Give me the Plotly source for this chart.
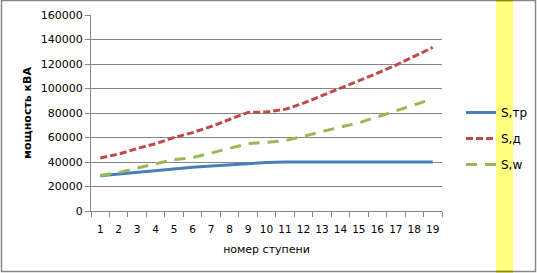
import plotly.graph_objects as go

stages = list(range(1, 20))
s_tr = [28800, 30300, 31800, 32800, 34200, 35800, 36800, 37800, 39000, 39600,
        40000, 40000, 40000, 40000, 40000, 40000, 40000, 40000, 40000]
s_d = [43300, 46500, 51000, 55000, 60000, 64000, 69000, 74500, 80500, 80800,
       83000, 88000, 94000, 100000, 106500, 112500, 119000, 126000, 133500]
s_w = [29000, 31500, 35000, 38500, 42000, 43500, 47500, 51500, 55000, 56000,
       57500, 61000, 65000, 68500, 72000, 77000, 82000, 86500, 91500]
y_ticks = [0, 20000, 40000, 60000, 80000, 100000, 120000, 140000, 160000]

FONT = "DejaVu Sans"

fig = go.Figure()
fig.add_trace(go.Scatter(x=stages, y=s_tr, mode="lines", name="S,тр",
                         legendgroup="a",
                         line=dict(color="#4A7EBB", width=3)))
fig.add_trace(go.Scatter(x=stages, y=s_d, mode="lines", name="S,д",
                         legendgroup="b",
                         line=dict(color="#BE4B48", width=3, dash="7px,3px")))
fig.add_trace(go.Scatter(x=stages, y=s_w, mode="lines", name="S,w",
                         legendgroup="c",
                         line=dict(color="#98B954", width=3, dash="11px,8px")))

L, R, T, B = 91, 442, 15, 211
W, H = 537, 273
pw, ph = R - L, B - T

def px_x(p):
    return (p - L) / pw

def px_y(p):
    return (B - p) / ph

shapes = [
    dict(type="rect", xref="paper", yref="paper", x0=px_x(496), x1=px_x(513),
         y0=px_y(273), y1=px_y(0), fillcolor="#FFFF80", line=dict(width=0),
         layer="below"),
    dict(type="rect", xref="paper", yref="paper", x0=px_x(1.5), x1=px_x(535.5),
         y0=px_y(271.5), y1=px_y(0.5), fillcolor="rgba(0,0,0,0)",
         line=dict(color="#868686", width=1.5), layer="above"),
    dict(type="line", xref="paper", yref="paper", x0=px_x(496), x1=px_x(513),
         y0=px_y(0.5), y1=px_y(0.5), line=dict(color="#8C8C00", width=1.5)),
    dict(type="line", xref="paper", yref="paper", x0=px_x(496), x1=px_x(513),
         y0=px_y(271.5), y1=px_y(271.5), line=dict(color="#8C8C00", width=1.5)),
]

fig.update_layout(
    width=W, height=H,
    margin=dict(l=L, r=W - R, t=T, b=H - B, pad=0, autoexpand=False),
    paper_bgcolor="white", plot_bgcolor="white",
    font=dict(family=FONT, size=11, color="#000000"),
    shapes=shapes,
    showlegend=True,
    legend=dict(x=px_x(461), y=px_y(98), xanchor="left", yanchor="top",
                font=dict(family=FONT, size=12, color="#000"),
                bgcolor="rgba(0,0,0,0)", tracegroupgap=7,
                itemwidth=30),
    xaxis=dict(
        type="category", tickmode="array", tickvals=stages,
        ticktext=[str(s) for s in stages],
        range=[-0.5, 18.5], showgrid=False,
        showline=True, linecolor="#868686", linewidth=1,
        ticks="outside", ticklen=5, tickcolor="#868686",
        tickson="boundaries", tickangle=0,
        ticklabelstandoff=8,
        tickfont=dict(family=FONT, size=10.5),
        automargin=False,
        title=dict(text="номер ступени", font=dict(family=FONT, size=11),
                   standoff=11),
    ),
    yaxis=dict(
        range=[0, 160000], tickmode="array", tickvals=y_ticks,
        ticktext=[str(v) for v in y_ticks],
        showgrid=True, gridcolor="#868686", gridwidth=1,
        showline=True, linecolor="#868686", linewidth=1,
        ticks="outside", ticklen=5, tickcolor="#868686",
        zeroline=False, automargin=False,
        tickfont=dict(family=FONT, size=11),
        title=dict(text="<b>мощность кВА</b>", font=dict(family=FONT, size=11),
                   standoff=6),
    ),
)

fig.write_html("out.html")
